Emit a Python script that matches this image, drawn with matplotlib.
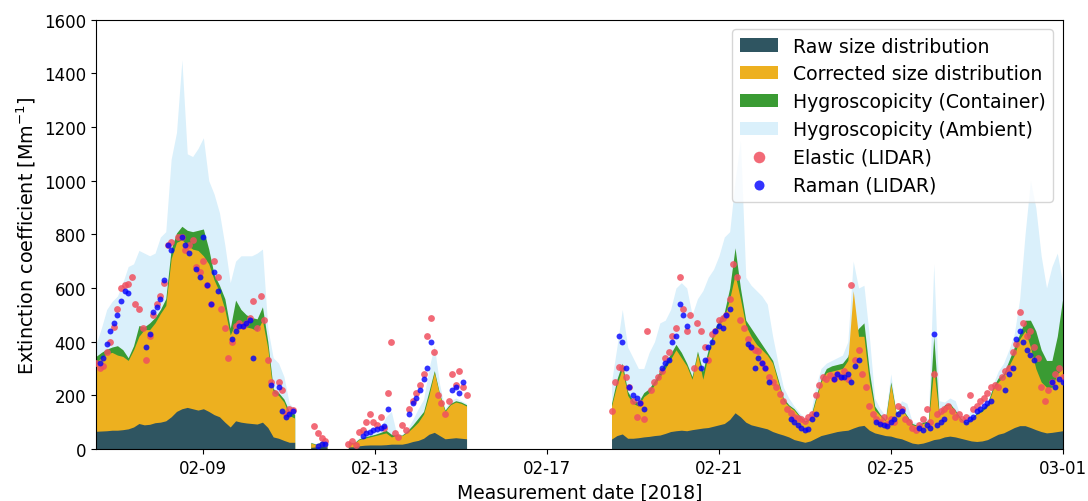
import numpy as np
import pandas as pd
import matplotlib
matplotlib.use("Agg")
import matplotlib.pyplot as plt
import matplotlib.dates as mdates

nan = np.nan

# Model extinction (3-hourly), one sub-list per measurement period
layer_start = ["2018-02-06 12:00", "2018-02-11 12:00", "2018-02-12 09:00", "2018-02-18 12:00"]

raw = [
    [66, 67, 68, 70, 70, 72, 75, 82, 95, 90, 92, 98, 100, 105, 120, 140, 150, 155, 150, 145,
     150, 140, 128, 120, 100, 82, 105, 100, 97, 95, 93, 100, 80, 45, 40, 32, 25, 25],
    [6, 8, 10, 8],
    [8, 8, 12, 14, 15, 15, 15, 16, 18, 18, 18, 22, 28, 32, 40, 55, 62, 50, 38, 40, 42, 40, 38],
    [37, 50, 56, 40, 40, 42, 45, 47, 50, 52, 58, 65, 68, 70, 68, 72, 75, 78, 80, 85,
     90, 95, 110, 135, 120, 100, 90, 85, 80, 75, 65, 58, 52, 45, 35, 30, 25, 30, 40, 50,
     55, 60, 65, 68, 70, 78, 85, 88, 70, 60, 55, 50, 48, 42, 38, 30, 22, 19, 22, 28,
     35, 38, 45, 48, 45, 40, 35, 30, 28, 30, 35, 45, 55, 60, 70, 80, 87, 87, 80, 72,
     65, 60, 62, 65, 68],
]
corrected = [
    [323, 340, 355, 360, 350, 345, 330, 370, 420, 445, 445, 470, 505, 535, 710, 770, 780, 760, 745, 740,
     720, 690, 630, 585, 520, 425, 470, 465, 455, 450, 440, 480, 375, 210, 200, 175, 125, 115],
    [22, 16, 26, 20],
    [25, 20, 35, 40, 45, 50, 55, 60, 45, 50, 50, 62, 80, 100, 130, 200, 285, 200, 140, 165, 175, 170, 160],
    [160, 240, 300, 200, 170, 160, 195, 210, 240, 270, 300, 335, 370, 340, 310, 260, 355, 260, 350, 420,
     460, 490, 560, 650, 560, 460, 420, 390, 370, 350, 320, 250, 180, 160, 145, 120, 100, 110, 180, 250,
     285, 290, 295, 300, 330, 590, 420, 420, 250, 145, 125, 105, 240, 130, 150, 120, 90, 85, 95, 100,
     300, 125, 160, 165, 140, 110, 95, 110, 130, 140, 160, 220, 250, 270, 310, 350, 410, 440, 380, 300,
     250, 230, 230, 280, 300],
]
container = [
    [345, 360, 372, 380, 385, 370, 340, 385, 460, 455, 470, 490, 520, 560, 745, 805, 830, 815, 810, 815,
     820, 745, 650, 610, 560, 450, 555, 520, 500, 490, 485, 530, 400, 225, 210, 186, 140, 130],
    [24, 18, 28, 22],
    [26, 22, 38, 45, 50, 55, 62, 70, 55, 52, 52, 68, 90, 115, 140, 215, 292, 205, 145, 170, 180, 175, 165],
    [170, 260, 320, 215, 180, 175, 210, 225, 255, 290, 320, 355, 390, 360, 320, 270, 365, 290, 370, 440,
     480, 510, 600, 750, 600, 480, 450, 420, 390, 360, 330, 260, 190, 165, 150, 125, 105, 115, 190, 260,
     300, 310, 315, 320, 345, 420, 450, 470, 290, 160, 130, 110, 250, 135, 155, 125, 95, 88, 100, 105,
     420, 130, 165, 170, 145, 115, 100, 115, 135, 150, 170, 230, 265, 280, 330, 380, 430, 480, 480, 440,
     370, 330, 330, 420, 560],
]
ambient = [
    [390, 450, 520, 550, 570, 620, 680, 690, 740, 730, 720, 730, 790, 810, 1080, 1180, 1450, 1100, 1090, 1120,
     1160, 1000, 950, 880, 760, 620, 700, 720, 720, 720, 730, 745, 450, 340, 320, 270, 170, 150],
    [26, 20, 30, 24],
    [28, 25, 42, 50, 60, 65, 80, 120, 140, 55, 55, 75, 110, 150, 185, 300, 385, 240, 150, 180, 190, 180, 170],
    [250, 380, 520, 380, 340, 300, 300, 360, 400, 470, 480, 520, 600, 620, 600, 500, 560, 590, 640, 670,
     720, 790, 810, 1000, 1150, 640, 610, 590, 570, 540, 420, 320, 230, 190, 160, 135, 115, 125, 230, 300,
     320, 330, 340, 350, 400, 700, 600, 610, 420, 190, 150, 125, 280, 140, 180, 170, 100, 100, 110, 115,
     690, 180, 175, 190, 180, 120, 105, 150, 140, 160, 175, 240, 290, 320, 370, 430, 560, 800, 1000, 900,
     720, 600, 680, 730, 620],
]

# LIDAR retrievals (2-hourly), same periods
lidar_start = ["2018-02-06 12:00", "2018-02-11 12:00", "2018-02-12 09:00", "2018-02-18 12:00"]

elastic = [
    [320, 300, 310, 360, 400, 455, 520, 600, 610, 615, 640, 540, 520, 450, 330, 420, 500, 540, 570, 620,
     760, 770, nan, 790, 790, 740, 760, 780, 680, 660, 700, 610, 540, 700, 640, 520, 450, 340, 400, 460,
     470, 460, 470, 490, 550, 450, 570, 480, 330, 250, 210, 250, 220, 130, 150, 145],
    [nan, 85, 60, 40, 30],
    [20, 30, 15, 65, 70, 100, 130, 100, 90, 120, 80, 210, 400, 60, 45, 90, 70, 150, 180, 210,
     240, 280, 420, 490, 360, 200, 170, 130, 180, 280, 240, 290, 230, 200],
    [140, 250, 305, 300, 270, 230, 180, 120, 170, 110, 440, 220, 250, 270, 290, 340, 360, 420, 450, 640,
     520, 440, 500, 300, 470, 440, 380, 330, 430, 440, 480, 490, 500, 560, 690, 640, 480, 450, 410, 380,
     370, 365, 320, 300, 270, 250, 230, 205, 180, 150, 135, 120, 115, 110, 105, 120, 130, 200, 240, 270,
     260, 275, 260, 280, 270, 290, 260, 610, 330, 370, 280, 230, 160, 130, 110, 100, 120, 95, 110, 100,
     160, 150, 110, 100, 80, 70, 90, 110, 150, 100, 280, 130, 140, 150, 160, 140, 120, 130, 110, 120,
     200, 150, 160, 180, 190, 210, 230, 240, 230, 270, 290, 300, 360, 390, 510, 470, 420, 440, 380, 340,
     230, 180, 220, 250, 280, 300, 270],
]
raman = [
    [nan, 320, 340, 390, 440, 470, 500, 550, 590, 580, nan, nan, nan, nan, 380, 430, 510, 530, 560, 630,
     760, 740, nan, nan, 790, 760, 730, nan, 670, 640, 790, 610, 540, 660, 590, nan, nan, nan, 410, 440,
     460, 460, 470, 480, 340, nan, nan, nan, nan, 240, nan, 230, 140, 120, 130, 140],
    [nan, nan, 10, 20, 20],
    [nan, nan, nan, nan, 50, 60, 65, 70, 75, 80, 85, 150, nan, nan, nan, nan, nan, 130, 170, 190,
     220, 260, 300, 400, nan, nan, nan, nan, nan, 220, 230, 210, 250, nan],
    [nan, nan, 420, 400, 300, 230, 200, 190, 170, 150, nan, nan, nan, nan, 300, 320, 330, 400, 420, 540,
     500, 460, nan, nan, nan, 300, 330, 380, 400, 440, 460, 450, 500, 520, nan, nan, nan, nan, 390, 380,
     300, 340, 320, 300, 250, nan, nan, nan, nan, nan, 110, 100, 90, 80, 70, 75, 110, 130, nan, nan,
     nan, nan, 260, 280, 270, 270, 280, 250, 310, 330, nan, nan, nan, nan, 100, 95, 90, 85, 100, 110,
     130, 140, nan, nan, nan, nan, 80, 70, 90, 80, 430, 90, 100, 110, nan, nan, nan, nan, nan, 100,
     110, 120, 140, 150, 160, 170, 180, nan, nan, nan, 220, 280, 300, 410, 440, 400, 370, 350, 330, nan,
     nan, nan, nan, 250, 230, 260, 250],
]

tick_dates = ["2018-02-09", "2018-02-13", "2018-02-17", "2018-02-21", "2018-02-25", "2018-03-01"]


def times(start, n, hours):
    return (pd.Timestamp(start) + pd.to_timedelta(np.arange(n) * hours, unit="h")).to_numpy()


fig, ax = plt.subplots(figsize=(10.88, 5.02), dpi=100)
fig.subplots_adjust(left=0.0882, right=0.9767, top=0.9588, bottom=0.1036)

layers = [
    (ambient, "#daf0fb", "Hygroscopicity (Ambient)"),
    (container, "#3a9b33", "Hygroscopicity (Container)"),
    (corrected, "#edb01f", "Corrected size distribution"),
    (raw, "#2f5561", "Raw size distribution"),
]
handles = {}
for values, color, label in layers:
    for k, seg in enumerate(values):
        t = times(layer_start[k], len(seg), 3)
        h = ax.fill_between(t, 0, seg, color=color, linewidth=0)
        if k == 0:
            handles[label] = h

for k, seg in enumerate(elastic):
    t = times(lidar_start[k], len(seg), 2)
    h = ax.scatter(t, seg, s=24, color="#f0505f", alpha=0.85, linewidths=0, zorder=3)
    if k == 0:
        handles["Elastic (LIDAR)"] = h
for k, seg in enumerate(raman):
    t = times(lidar_start[k], len(seg), 2)
    h = ax.scatter(t, seg, s=18, color="#0000ff", alpha=0.8, linewidths=0, zorder=4)
    if k == 0:
        handles["Raman (LIDAR)"] = h

order = ["Raw size distribution", "Corrected size distribution", "Hygroscopicity (Container)",
         "Hygroscopicity (Ambient)", "Elastic (LIDAR)", "Raman (LIDAR)"]
ax.legend([handles[o] for o in order], order, loc="upper right", fontsize=13.6,
          labelspacing=0.46, framealpha=0.8, markerscale=1.7)

ax.set_xlim(pd.Timestamp("2018-02-06 12:00"), pd.Timestamp("2018-03-01"))
ax.set_ylim(0, 1600)
ax.set_xticks(pd.to_datetime(tick_dates))
ax.xaxis.set_major_formatter(mdates.DateFormatter("%m-%d"))
ax.tick_params(labelsize=12)
ax.set_xlabel("Measurement date [2018]", fontsize=13.5)
ax.set_ylabel("Extinction coefficient [Mm$^{-1}$]", fontsize=13.8)

fig.savefig("out.png", dpi=100)
